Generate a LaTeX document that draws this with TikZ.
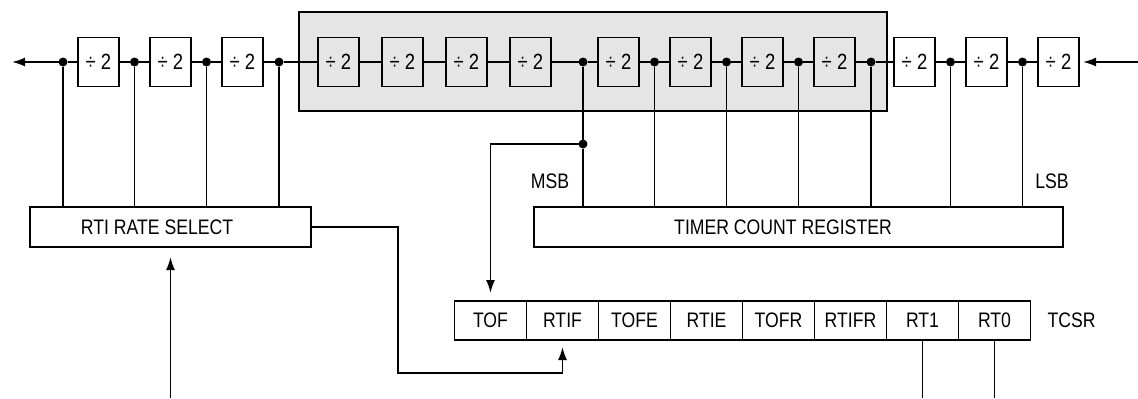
\documentclass[tikz,border=0pt]{standalone}
\usepackage{fontspec}
\setmainfont{Liberation Sans}[FakeStretch=0.84]
\usetikzlibrary{arrows.meta,positioning,calc}

\begin{document}
\begin{tikzpicture}[x=0.5pt, y=-0.5pt, font=\fontsize{10.5}{12}\selectfont,
    divbox/.style={draw, line width=0.9pt, outer sep=0pt, minimum width=20.5pt, minimum height=24.5pt, inner sep=0pt, font=\fontsize{11}{13}\selectfont},
    regbox/.style={draw, line width=0.9pt, outer sep=0pt, minimum height=20pt, inner sep=0pt},
    bitbox/.style={draw, line width=0.9pt, outer sep=0pt, minimum width=36pt, minimum height=19.5pt, inner sep=0pt},
    tap/.style={circle, fill, inner sep=0pt, outer sep=0pt, minimum size=4.5pt},
    wire/.style={line width=0.9pt},
    sig/.style={line width=0.9pt, -{Latex[length=6.5pt,width=4.5pt]}}]
\useasboundingbox (0,0) rectangle (1138,398);
% shaded counter stages
\draw[line width=0.9pt, fill=black!10] (299,12) rectangle (887,111);

% divide-by-two chain
\node[divbox] (d1) at (98.5,62) {÷ 2};
\node[divbox, right=15.5pt of d1] (d2) {÷ 2};
\node[divbox, right=15.5pt of d2] (d3) {÷ 2};
\node[divbox, right=27.5pt of d3] (d4) {÷ 2};
\node[divbox, right=11.5pt of d4] (d5) {÷ 2};
\node[divbox, right=11.5pt of d5] (d6) {÷ 2};
\node[divbox, right=11.5pt of d6] (d7) {÷ 2};
\node[divbox, right=23.5pt of d7] (d8) {÷ 2};
\node[divbox, right=15.5pt of d8] (d9) {÷ 2};
\node[divbox, right=15.5pt of d9] (d10) {÷ 2};
\node[divbox, right=15.5pt of d10] (d11) {÷ 2};
\node[divbox, right=19.5pt of d11] (d12) {÷ 2};
\node[divbox, right=15.5pt of d12] (d13) {÷ 2};
\node[divbox, right=15.5pt of d13] (d14) {÷ 2};

% taps
\node[tap] (t1) at ($(d1.west)+(-15,0)$) {};
\node[tap] (t2) at ($(d1.east)!0.5!(d2.west)$) {};
\node[tap] (t3) at ($(d2.east)!0.5!(d3.west)$) {};
\node[tap] (t4) at ($(d3.east)+(16,0)$) {};
\node[tap] (t5) at ($(d8.west)+(-15,0)$) {};
\node[tap] (t6) at ($(d8.east)!0.5!(d9.west)$) {};
\node[tap] (t7) at ($(d9.east)!0.5!(d10.west)$) {};
\node[tap] (t8) at ($(d10.east)!0.5!(d11.west)$) {};
\node[tap] (t9) at ($(d11.east)+(16,0)$) {};
\node[tap] (t10) at ($(d12.east)!0.5!(d13.west)$) {};
\node[tap] (t11) at ($(d13.east)!0.5!(d14.west)$) {};

% registers
\node[regbox, minimum width=140.5pt, label={[xshift=-6.75pt]center:RTI RATE SELECT}] (rti) at (170.5,227) {};
\node[regbox, minimum width=264.5pt, label={[xshift=-7.75pt]center:TIMER COUNT REGISTER}] (tcr) at (798.5,227) {};
\node (msb) at (550,181) {MSB};
\node (lsb) at (1052,181) {LSB};

% TCSR bits
\node[bitbox] (tof) at (490.5,320.5) {TOF};
\node[bitbox, right=0pt of tof] (rtif) {RTIF};
\node[bitbox, right=0pt of rtif] (tofe) {TOFE};
\node[bitbox, right=0pt of tofe] (rtie) {RTIE};
\node[bitbox, right=0pt of rtie] (tofr) {TOFR};
\node[bitbox, right=0pt of tofr] (rtifr) {RTIFR};
\node[bitbox, right=0pt of rtifr] (rtone) {RT1};
\node[bitbox, right=0pt of rtone] (rtzero) {RT0};
\node[right=5pt of rtzero] (tcsr) {TCSR};

\coordinate (outl) at (12,62);
\coordinate (inr) at (1138,62);
\coordinate (msbrow) at (0,144);
\coordinate (bend) at (398,373);
\coordinate (base) at (0,398);
\node[tap] (msbtap) at (t5 |- msbrow) {};

% main chain
\draw[sig] (t1) -- (outl);
\draw[wire] (t1) -- (d1) -- (t2) -- (d2) -- (t3) -- (d3) -- (t4) -- (d4) -- (d5) -- (d6) -- (d7)
    -- (t5) -- (d8) -- (t6) -- (d9) -- (t7) -- (d10) -- (t8) -- (d11) -- (t9) -- (d12)
    -- (t10) -- (d13) -- (t11) -- (d14);
\draw[sig] (inr) -- ([xshift=2pt]d14.east);

% rate select inputs
\draw[wire] (t1) -- (t1 |- rti.north);
\draw[wire] (t2) -- (t2 |- rti.north);
\draw[wire] (t3) -- (t3 |- rti.north);
\draw[wire] (t4) -- (t4 |- rti.north);

% timer count inputs
\draw[wire] (t5) -- (msbtap) -- (t5 |- tcr.north);
\draw[wire] (t6) -- (t6 |- tcr.north);
\draw[wire] (t7) -- (t7 |- tcr.north);
\draw[wire] (t8) -- (t8 |- tcr.north);
\draw[wire] (t9) -- (t9 |- tcr.north);
\draw[wire] (t10) -- (t10 |- tcr.north);
\draw[wire] (t11) -- (t11 |- tcr.north);

% flags
\draw[sig] (msbtap) -| ([yshift=4pt]tof.north);
\draw[sig] (rti.east) -| (bend) -| ([yshift=-3.5pt]rtif.south);
\draw[sig] (rti.south |- base) -- ([yshift=-5pt]rti.south);
\draw[wire] (rtone.south) -- (rtone.south |- base);
\draw[wire] (rtzero.south) -- (rtzero.south |- base);
\end{tikzpicture}
\end{document}
